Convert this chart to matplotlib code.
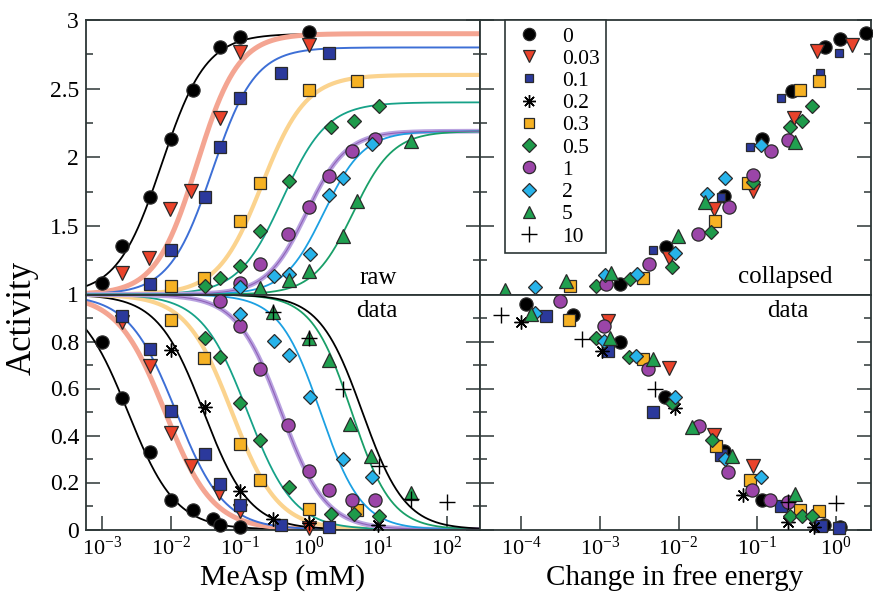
import numpy as np
import matplotlib
matplotlib.use("Agg")
import matplotlib.pyplot as plt
from matplotlib.lines import Line2D
from matplotlib.ticker import LogLocator, NullLocator, FixedLocator, FixedFormatter

plt.rcParams['font.family'] = ['Liberation Serif', 'DejaVu Serif']
plt.rcParams['mathtext.fontset'] = 'custom'
plt.rcParams['mathtext.rm'] = 'Liberation Serif'
plt.rcParams['mathtext.it'] = 'Liberation Serif:italic'
plt.rcParams['mathtext.bf'] = 'Liberation Serif:bold'

# ---------------- data ----------------
series_labels = ['0', '0.03', '0.1', '0.2', '0.3', '0.5', '1', '2', '5', '10']

# raw data, upper-left panel (MeAsp in mM, activity)
raw_up_x = [
    [0.001, 0.002, 0.005, 0.01, 0.021, 0.051, 0.1, 1.0],
    [0.002, 0.0049, 0.0098, 0.02, 0.051, 0.1, 1.0],
    [0.005, 0.01, 0.031, 0.051, 0.1, 0.4, 2.0],
    [],
    [0.01, 0.03, 0.1, 0.2, 1.0, 5.0],
    [0.031, 0.051, 0.1, 0.2, 0.52, 2.1, 4.5, 10.3],
    [0.1, 0.2, 0.5, 1.0, 2.0, 4.2, 9.1],
    [0.1, 0.31, 0.52, 1.04, 2.0, 3.1, 8.4],
    [0.2, 0.52, 1.0, 3.1, 5.0, 30.0],
    [],
]
raw_up_y = [
    [1.086, 1.355, 1.713, 2.134, 2.493, 2.80, 2.877, 2.909],
    [1.159, 1.269, 1.623, 1.757, 2.288, 2.768, 2.817],
    [1.075, 1.323, 1.713, 2.078, 2.431, 2.614, 2.756],
    [],
    [1.062, 1.123, 1.537, 1.81, 2.493, 2.556],
    [1.062, 1.118, 1.208, 1.464, 1.825, 2.224, 2.263, 2.371],
    [1.086, 1.22, 1.444, 1.635, 1.866, 2.049, 2.134],
    [1.055, 1.135, 1.152, 1.298, 1.727, 1.849, 2.093],
    [1.05, 1.104, 1.172, 1.428, 1.683, 2.117],
    [],
]

# raw data, lower-left panel
raw_dn_x = [
    [0.001, 0.002, 0.005, 0.01, 0.021, 0.041, 0.051, 0.1],
    [0.002, 0.005, 0.01, 0.02, 0.05, 0.1, 1.0],
    [0.002, 0.005, 0.01, 0.031, 0.051, 0.1, 0.4, 2.0],
    [0.01, 0.031, 0.1, 0.3, 1.0, 10.0],
    [0.01, 0.03, 0.1, 0.2, 1.0, 5.0],
    [0.031, 0.051, 0.1, 0.2, 0.52, 2.1, 4.5, 10.3],
    [0.051, 0.1, 0.2, 0.5, 1.0, 2.0, 4.2, 9.1],
    [0.1, 0.31, 0.52, 1.04, 3.1, 8.4],
    [0.3, 1.0, 2.0, 4.0, 8.1, 30.0],
    [0.3, 1.0, 3.1, 10.5, 30.0, 100.0],
]
raw_dn_y = [
    [0.796, 0.561, 0.330, 0.126, 0.084, 0.044, 0.02, 0.01],
    [0.882, 0.694, 0.409, 0.272, 0.155, 0.077, 0.005],
    [0.91, 0.767, 0.504, 0.323, 0.195, 0.105, 0.02, 0.01],
    [0.765, 0.523, 0.162, 0.044, 0.027, 0.02],
    [0.893, 0.728, 0.362, 0.209, 0.087, 0.081],
    [0.817, 0.735, 0.54, 0.38, 0.181, 0.067, 0.064, 0.058],
    [0.974, 0.867, 0.682, 0.443, 0.248, 0.169, 0.124, 0.124],
    [0.917, 0.803, 0.742, 0.565, 0.30, 0.223],
    [0.924, 0.813, 0.722, 0.447, 0.312, 0.155],
    [0.924, 0.813, 0.60, 0.272, 0.13, 0.119],
]

# collapsed data, upper-right panel (change in free energy, activity)
col_up_x = [
    [0.00181, 0.0069, 0.0377, 0.116, 0.281, 0.735, 1.13, 2.43],
    [0.0076, 0.0281, 0.0883, 0.295, 0.575, 1.61],
    [0.00467, 0.0352, 0.0802, 0.20, 0.634, 1.09],
    [],
    [0.000415, 0.00348, 0.0295, 0.0769, 0.349, 0.615],
    [0.00088, 0.00242, 0.00824, 0.0262, 0.0883, 0.26, 0.37, 0.506],
    [0.00118, 0.00424, 0.0177, 0.0437, 0.0883, 0.149, 0.249],
    [0.000151, 0.00116, 0.00294, 0.0091, 0.0231, 0.0388, 0.111],
    [0.0000614, 0.000365, 0.00139, 0.00982, 0.022, 0.304],
    [],
]
col_up_y = [
    [1.074, 1.347, 1.72, 2.134, 2.482, 2.80, 2.865, 2.902],
    [1.269, 1.623, 1.751, 2.288, 2.775, 2.817],
    [1.323, 1.713, 2.078, 2.431, 2.614, 2.756],
    [],
    [1.062, 1.118, 1.537, 1.81, 2.488, 2.553],
    [1.062, 1.111, 1.201, 1.459, 1.817, 2.224, 2.263, 2.371],
    [1.074, 1.221, 1.44, 1.635, 1.874, 2.049, 2.127],
    [1.055, 1.143, 1.148, 1.301, 1.732, 1.849, 2.086],
    [1.031, 1.099, 1.16, 1.428, 1.671, 2.110],
    [],
]

# collapsed data, lower-right panel
col_dn_x = [
    [0.000116, 0.000457, 0.00181, 0.00664, 0.0377, 0.114, 0.713, 1.13],
    [0.00128, 0.0076, 0.0281, 0.0883],
    [0.000203, 0.00125, 0.00467, 0.0352, 0.20, 0.647, 1.09],
    [0.0001, 0.00107, 0.0091, 0.0659, 0.249, 0.537],
    [0.000403, 0.00348, 0.0301, 0.0802, 0.349, 0.615],
    [0.00088, 0.00231, 0.00824, 0.0267, 0.26, 0.37, 0.506],
    [0.000309, 0.00114, 0.00406, 0.0181, 0.0428, 0.0851, 0.145, 0.249],
    [0.000148, 0.00114, 0.00286, 0.00891, 0.0388, 0.111],
    [0.000134, 0.00135, 0.00467, 0.0148, 0.0481, 0.304],
    [0.0000546, 0.000596, 0.00506, 0.249, 1.0],
]
col_dn_y = [
    [0.96, 0.913, 0.796, 0.565, 0.333, 0.126, 0.02, 0.01],
    [0.889, 0.689, 0.404, 0.269],
    [0.907, 0.76, 0.50, 0.319, 0.098, 0.013, 0.006],
    [0.882, 0.76, 0.518, 0.148, 0.03, 0.01],
    [0.893, 0.725, 0.357, 0.209, 0.084, 0.077],
    [0.817, 0.732, 0.54, 0.38, 0.058, 0.058, 0.058],
    [0.974, 0.867, 0.685, 0.44, 0.243, 0.169, 0.124, 0.119],
    [0.921, 0.803, 0.739, 0.565, 0.30, 0.223],
    [0.917, 0.813, 0.725, 0.437, 0.312, 0.152],
    [0.913, 0.81, 0.60, 0.119, 0.112],
]

# fitted Hill curves (None = no curve)
up_fit_top = [2.90, 2.90, 2.80, None, 2.60, 2.40, 2.19, 2.19, 2.19, None]
up_fit_K = [0.0074, 0.024, 0.040, None, 0.21, 0.42, 0.93, 1.65, 4.4, None]
up_fit_n = [1.35, 1.45, 1.4, None, 1.35, 1.35, 1.5, 1.5, 1.5, None]
dn_fit_K = [0.0024, 0.0083, 0.0120, 0.030, 0.077, 0.13, 0.40, 1.48, 4.2, 6.0]
dn_fit_n = [1.25, 1.25, 1.25, 1.3, 1.3, 1.3, 1.35, 1.45, 1.5, 1.4]
fit_base = 1.0

# ---------------- styles ----------------
mk_shape = ['o', 'v', 's', (8, 2, 0), 's', 'D', 'o', 'D', '^', '+']
mk_face = ['#000000', '#ea432b', '#2b399c', '#000000', '#f6b224', '#1e9a4a',
           '#9b45a8', '#27b3ea', '#20a050', '#000000']
mk_size = [9.5, 9.5, 8.5, 10, 8.5, 7.5, 9.5, 7.5, 9.5, 12]
curve_color = ['#000000', '#f4a592', '#3d6fd6', '#000000', '#fbd38e', '#16a288',
               '#b9a3e0', '#1ca0e2', '#199f68', '#000000']
curve_width = [1.3, 3.6, 1.4, 1.3, 3.0, 1.3, 3.4, 1.3, 1.3, 1.3]
edge_c = '#2a2a2a'
spine_c = '#2c3636'

W, H = 873, 607
fig = plt.figure(figsize=(W / 100, H / 100), dpi=100)

xl0, xl1, xr1 = 86, 480, 871
yt0, ymid, yb1 = 20, 294.5, 529.5


def rect(x0, x1, y0, y1):
    return [x0 / W, 1 - y1 / H, (x1 - x0) / W, (y1 - y0) / H]


ax_ul = fig.add_axes(rect(xl0, xl1, yt0, ymid))
ax_ur = fig.add_axes(rect(xl1, xr1, yt0, ymid))
ax_dl = fig.add_axes(rect(xl0, xl1, ymid, yb1))
ax_dr = fig.add_axes(rect(xl1, xr1, ymid, yb1))

left_lim = (10 ** -3.2275, 10 ** 2.483)
right_lim = (10 ** -4.527, 10 ** 0.45)


def mstyle(i, small=False):
    d = dict(linestyle='none', marker=mk_shape[i], markersize=mk_size[i] * (0.72 if small else 1.0),
             zorder=5 + i * 0.01, clip_on=False)
    if mk_shape[i] in ('+', (8, 2, 0)):
        d.update(color='#000000', markeredgewidth=1.0)
    else:
        d.update(markerfacecolor=mk_face[i], markeredgecolor=edge_c, markeredgewidth=0.9)
    return d


# curves
xx = np.logspace(np.log10(left_lim[0]), np.log10(left_lim[1]), 500)
for i in range(len(series_labels)):
    if up_fit_top[i] is not None:
        f = xx ** up_fit_n[i] / (xx ** up_fit_n[i] + up_fit_K[i] ** up_fit_n[i])
        ax_ul.plot(xx, fit_base + (up_fit_top[i] - fit_base) * f, color=curve_color[i],
                   lw=curve_width[i], zorder=2, solid_capstyle='butt')
        if i == 6:
            ax_ul.plot(xx, fit_base + (up_fit_top[i] - fit_base) * f, color='#9060b8',
                       lw=0.8, zorder=2.1)
    g = 1.0 / (1.0 + (xx / dn_fit_K[i]) ** dn_fit_n[i])
    ax_dl.plot(xx, g, color=curve_color[i], lw=curve_width[i], zorder=2)
    if i == 6:
        ax_dl.plot(xx, g, color='#9060b8', lw=0.8, zorder=2.1)

# points
for i in range(len(series_labels)):
    if raw_up_x[i]:
        ax_ul.plot(raw_up_x[i], raw_up_y[i], **mstyle(i))
    if raw_dn_x[i]:
        ax_dl.plot(raw_dn_x[i], raw_dn_y[i], **mstyle(i))
    if col_up_x[i]:
        ax_ur.plot(col_up_x[i], col_up_y[i], **mstyle(i, small=(i == 2)))
    if col_dn_x[i]:
        ax_dr.plot(col_dn_x[i], col_dn_y[i], **mstyle(i))

# axes formatting
for ax in (ax_ul, ax_ur, ax_dl, ax_dr):
    ax.set_xscale('log')
    for s in ax.spines.values():
        s.set_color(spine_c)
        s.set_linewidth(1.3)
    ax.tick_params(which='both', direction='in', left=True, right=True, top=False,
                   color=spine_c, width=1.1, labelsize=17, pad=5)
    ax.tick_params(which='major', length=10)
    ax.tick_params(which='minor', length=5)
    ax.xaxis.set_minor_locator(NullLocator())

for ax in (ax_ul, ax_dl):
    ax.set_xlim(*left_lim)
for ax in (ax_ur, ax_dr):
    ax.set_xlim(*right_lim)

for ax in (ax_ul, ax_ur):
    ax.set_ylim(1, 3)
    ax.yaxis.set_major_locator(FixedLocator([1, 1.5, 2, 2.5, 3]))
    ax.yaxis.set_minor_locator(FixedLocator([1.25, 1.75, 2.25, 2.75]))
    ax.tick_params(axis='x', which='both', bottom=False, labelbottom=False)
for ax in (ax_dl, ax_dr):
    ax.set_ylim(0, 1)
    ax.yaxis.set_major_locator(FixedLocator([0, 0.2, 0.4, 0.6, 0.8]))
    ax.yaxis.set_minor_locator(FixedLocator([0.1, 0.3, 0.5, 0.7, 0.9]))
    ax.xaxis.set_major_locator(LogLocator(base=10, numticks=20))
    ax.tick_params(axis='x', which='major', bottom=True, pad=5, labelsize=16)

ax_ul.yaxis.set_major_formatter(FixedFormatter(['1', '1.5', '2', '2.5', '3']))
ax_dl.yaxis.set_major_formatter(FixedFormatter(['0', '0.2', '0.4', '0.6', '0.8']))
for ax in (ax_ur, ax_dr):
    ax.tick_params(axis='y', labelleft=False)

# annotations
ax_ul.text(0.741, 0.06, 'raw', transform=ax_ul.transAxes, ha='center', va='center', fontsize=18)
ax_dl.text(0.737, 0.93, 'data', transform=ax_dl.transAxes, ha='center', va='center', fontsize=18)
ax_ur.text(0.781, 0.064, 'collapsed', transform=ax_ur.transAxes, ha='center', va='center', fontsize=18)
ax_dr.text(0.786, 0.93, 'data', transform=ax_dr.transAxes, ha='center', va='center', fontsize=18)

# legend
handles = []
for i, lab in enumerate(series_labels):
    st = mstyle(i, small=(i == 2))
    st.pop('zorder'); st.pop('clip_on')
    st['markersize'] = st['markersize'] * 0.93
    handles.append(Line2D([], [], label=lab, **st))
leg = ax_ur.legend(handles=handles, loc='upper left', bbox_to_anchor=((505 - 480) / (xr1 - xl1), 1.0),
                   borderaxespad=0, fontsize=15.5, handlelength=1.6, handletextpad=0.75,
                   labelspacing=0.1, borderpad=0.3, frameon=True, fancybox=False,
                   framealpha=1, edgecolor=spine_c, numpoints=1)
leg.get_frame().set_linewidth(1.2)
leg.set_zorder(10)

# axis labels
fig.text(0.025, 1 - 318 / H, 'Activity', rotation=90, ha='center', va='center', fontsize=25)
fig.text(283 / W, 1 - 578 / H, 'MeAsp (mM)', ha='center', va='center', fontsize=21.5)
fig.text(675 / W, 1 - 578 / H, 'Change in free energy', ha='center', va='center', fontsize=21)

fig.savefig('out.png', dpi=100)
